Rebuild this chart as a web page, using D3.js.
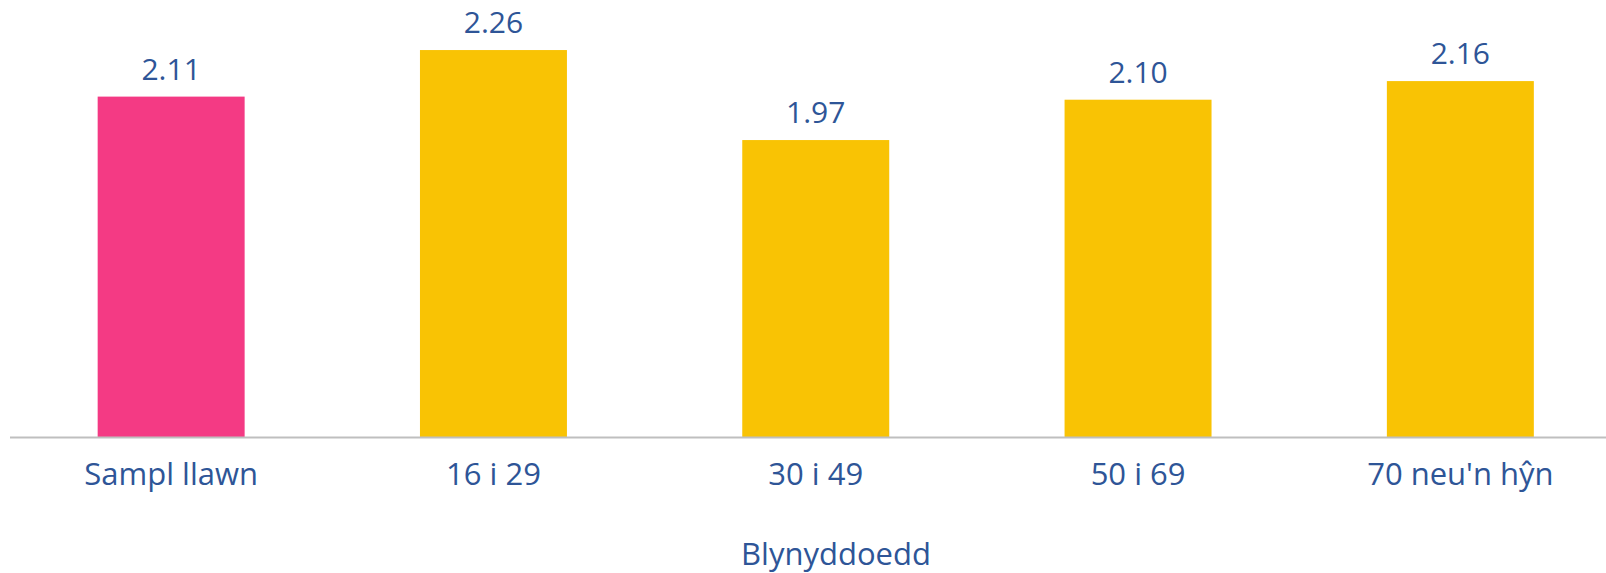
<!DOCTYPE html>
<html>
<head>
<meta charset="utf-8">
<script src="https://cdn.jsdelivr.net/npm/d3@7"></script>
<style>
  html, body { margin: 0; padding: 0; background: #ffffff; }
  svg { display: block; }
  text { font-family: "Open Sans", "Noto Sans", sans-serif; fill: #2E5597; }
</style>
</head>
<body>
<svg id="chart" width="1606" height="573"></svg>
<script>
const categories = ["Sampl llawn", "16 i 29", "30 i 49", "50 i 69", "70 neu'n hŷn"];
const values = [2.11, 2.26, 1.97, 2.10, 2.16];
const valueLabels = ["2.11", "2.26", "1.97", "2.10", "2.16"];
const barColors = ["#F43A84", "#F9C304", "#F9C304", "#F9C304", "#F9C304"];
const axisTitle = "Blynyddoedd";

const W = 1606, H = 573;
const svg = d3.select("#chart");

const baseY = 437.5;
const x = d3.scaleBand()
  .domain(categories)
  .range([10, 1621.5])
  .paddingInner(0.544)
  .paddingOuter(0.272);

const y = d3.scaleLinear()
  .domain([1.01, 2.4])
  .range([438, 6.6]);

const data = categories.map((c, i) => ({ c, v: values[i], label: valueLabels[i], color: barColors[i] }));

// bars
svg.append("g").selectAll("rect")
  .data(data)
  .join("rect")
  .attr("x", d => x(d.c))
  .attr("y", d => y(d.v))
  .attr("width", x.bandwidth())
  .attr("height", d => baseY - y(d.v))
  .attr("fill", d => d.color);

// value labels
svg.append("g").selectAll("text")
  .data(data)
  .join("text")
  .attr("x", d => x(d.c) + x.bandwidth() / 2)
  .attr("y", d => y(d.v) - 17)
  .attr("text-anchor", "middle")
  .attr("font-size", 30)
  .text(d => d.label);

// x axis
const xAxis = d3.axisBottom(x).tickSize(0).tickPadding(0);
const gx = svg.append("g").attr("transform", `translate(0,${baseY})`).call(xAxis);
gx.select(".domain").remove();
gx.selectAll(".tick text")
  .attr("y", 0)
  .attr("dy", 47)
  .attr("font-size", 31)
  .attr("font-family", "\"Open Sans\", \"Noto Sans\", sans-serif")
  .attr("fill", "#2E5597");

svg.append("line")
  .attr("x1", 10).attr("x2", W)
  .attr("y1", baseY).attr("y2", baseY)
  .attr("stroke", "#BFBFBF")
  .attr("stroke-width", 2);

// axis title
svg.append("text")
  .attr("x", 836)
  .attr("y", 565)
  .attr("text-anchor", "middle")
  .attr("font-size", 31)
  .text(axisTitle);
</script>
</body>
</html>
